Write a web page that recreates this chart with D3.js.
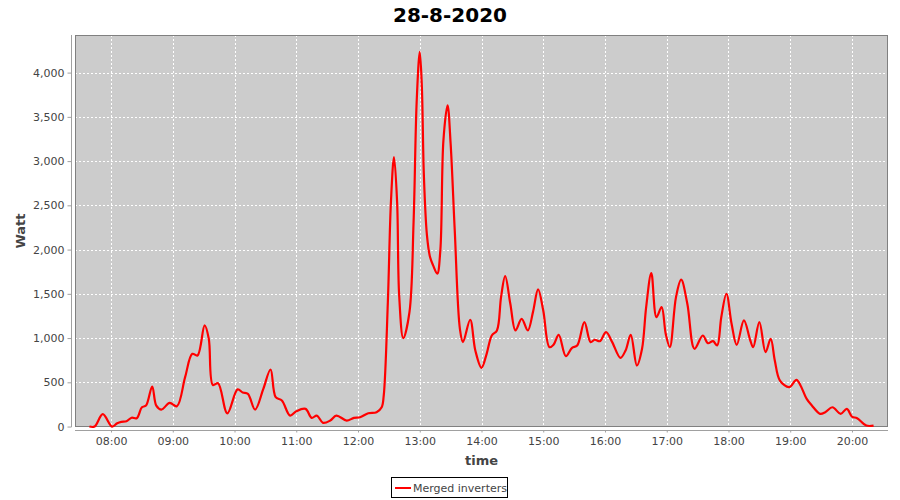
<html>
<head>
<script src="https://d3js.org/d3.v7.min.js"></script>
<style>
  body { margin: 0; background: #fff; }
  text { font-family: "DejaVu Sans", sans-serif; }
</style>
</head>
<body>
<div id="chart"></div>
<script>
// readings of the day, "HH:MM" -> watt
const times = ["07:39","07:44","07:52","08:01","08:06","08:10","08:15","08:20","08:25","08:30",
  "08:34","08:40","08:44","08:49","08:57","09:04","09:12","09:19","09:24","09:31",
  "09:35","09:39","09:44","09:53","10:03","10:08","10:13","10:20","10:28","10:35",
  "10:40","10:46","10:54","11:00","11:09","11:15","11:20","11:26","11:33","11:39",
  "11:49","11:56","12:02","12:10","12:18","12:23","12:25","12:29","12:32","12:35",
  "12:38","12:40","12:44","12:50","12:54","12:57","13:00","13:02","13:04","13:07",
  "13:10","13:13","13:17","13:20","13:23","13:27","13:30","13:34","13:39","13:42",
  "13:49","13:54","14:00","14:05","14:10","14:15","14:19","14:23","14:28","14:33",
  "14:39","14:45","14:50","14:55","15:00","15:06","15:10","15:15","15:22","15:28",
  "15:33","15:40","15:46","15:50","15:55","16:01","16:07","16:15","16:20","16:25",
  "16:31","16:36","16:40","16:45","16:50","16:55","16:59","17:03","17:09","17:14",
  "17:20","17:27","17:35","17:40","17:45","17:49","17:53","17:58","18:03","18:08",
  "18:15","18:21","18:24","18:30","18:36","18:41","18:45","18:50","18:59","19:06",
  "19:10","19:16","19:21","19:29","19:34","19:41","19:49","19:55","20:00","20:05",
  "20:14","20:21"];
const watts = [0,0,140,0,37,53,60,100,94,218,
  237,452,237,192,268,230,558,822,803,1143,
  992,470,490,150,420,385,370,192,426,645,
  332,294,124,173,200,98,124,42,68,124,
  68,98,105,150,162,218,350,1406,2537,3046,
  2537,1482,999,1293,2311,3669,4234,3857,2839,2160,
  1915,1821,1727,1991,3235,3631,3198,2217,1105,954,
  1207,860,664,822,1029,1086,1463,1700,1388,1086,
  1218,1086,1293,1550,1312,897,924,1037,795,890,
  916,1180,954,981,965,1067,954,777,860,1037,
  690,879,1350,1734,1236,1350,1049,897,1463,1660,
  1388,879,1029,942,965,916,1236,1501,1162,924,
  1199,981,897,1180,841,992,747,520,445,528,
  464,313,238,144,162,218,144,200,113,94,
  11,11];
const yTicks = [0,500,1000,1500,2000,2500,3000,3500,4000];
const xTicks = ["08:00","09:00","10:00","11:00","12:00","13:00","14:00","15:00","16:00","17:00","18:00","19:00","20:00"];
const title = "28-8-2020";
const seriesName = "Merged inverters";

const w = 900, h = 500;
const pL = 75, pR = 888, pT = 35, pB = 427;

const parse = d3.timeParse("%Y-%m-%d %H:%M");
const day = "2020-08-28 ";
const data = times.map((t, i) => ({ t: parse(day + t), v: watts[i] }));

const svg = d3.select("#chart").append("svg")
  .attr("width", w).attr("height", h);

const xScale = d3.scaleTime()
  .domain([parse(day + "07:25"), parse(day + "20:35")])
  .range([pL, pR]);
const yScale = d3.scaleLinear()
  .domain([-5, 4425])
  .range([pB, pT]);

svg //title
  .append("text")
  .attr("x", 450).attr("y", 22)
  .attr("text-anchor", "middle")
  .style("font-size", "20px").style("font-weight", "bold")
  .text(title);

svg //plot background
  .append("rect")
  .attr("x", pL).attr("y", pT)
  .attr("width", pR - pL).attr("height", pB - pT)
  .attr("fill", "#cccccc");

const grid = svg.append("g")
  .attr("stroke", "#ffffff").attr("stroke-width", 1)
  .attr("stroke-dasharray", "2,2");
grid.selectAll(".gy").data(yTicks).enter().append("line")
  .attr("x1", pL).attr("x2", pR)
  .attr("y1", d => Math.round(yScale(d)) + 0.5)
  .attr("y2", d => Math.round(yScale(d)) + 0.5);
grid.selectAll(".gx").data(xTicks).enter().append("line")
  .attr("y1", pT).attr("y2", pB)
  .attr("x1", d => Math.round(xScale(parse(day + d))) + 0.5)
  .attr("x2", d => Math.round(xScale(parse(day + d))) + 0.5);

svg //plot outline
  .append("rect")
  .attr("x", pL + 0.5).attr("y", pT + 0.5)
  .attr("width", pR - pL - 1).attr("height", pB - pT - 1)
  .attr("fill", "none").attr("stroke", "#808080");

const line = d3.line()
  .x(d => xScale(d.t))
  .y(d => yScale(d.v))
  .curve(d3.curveCatmullRom.alpha(0.5));

svg //series
  .append("path")
  .datum(data)
  .attr("d", line)
  .attr("fill", "none")
  .attr("stroke", "#ff0000")
  .attr("stroke-width", 2.2)
  .attr("stroke-linejoin", "round");

const yAxis = d3.axisLeft(yScale)
  .tickValues(yTicks)
  .tickFormat(d3.format(","))
  .tickSize(4).tickPadding(3).tickSizeOuter(0);
const xAxis = d3.axisBottom(xScale)
  .tickValues(xTicks.map(d => parse(day + d)))
  .tickFormat(d3.timeFormat("%H:%M"))
  .tickSize(2).tickPadding(5).tickSizeOuter(0);

const gy = svg.append("g")
  .attr("transform", "translate(71.5,0)")
  .call(yAxis);
const gx = svg.append("g")
  .attr("transform", "translate(0,430.5)")
  .call(xAxis);

[gy, gx].forEach(g => {
  g.select(".domain").attr("stroke", "#a0a0a0");
  g.selectAll(".tick line").attr("stroke", "#a0a0a0");
  g.selectAll(".tick text")
    .attr("fill", "#444444")
    .style("font-family", "DejaVu Sans, sans-serif")
    .style("font-size", "11px");
});
gy.select(".domain").attr("d", "M0," + pT + "V" + pB);
gx.select(".domain").attr("d", "M" + pL + ",0H" + pR);

svg //y-axis label
  .append("text")
  .attr("transform", "translate(25," + ((pT + pB) / 2) + ") rotate(-90)")
  .attr("text-anchor", "middle")
  .style("font-size", "13px").style("font-weight", "bold")
  .attr("fill", "#444444")
  .text("Watt");

svg //x-axis label
  .append("text")
  .attr("x", (pL + pR) / 2).attr("y", 465)
  .attr("text-anchor", "middle")
  .style("font-size", "13px").style("font-weight", "bold")
  .attr("fill", "#444444")
  .text("time");

const legend = svg.append("g");
legend.append("rect")
  .attr("x", 391.5).attr("y", 477.5)
  .attr("width", 116).attr("height", 20)
  .attr("fill", "#ffffff").attr("stroke", "#000000");
legend.append("line")
  .attr("x1", 395).attr("x2", 411)
  .attr("y1", 488).attr("y2", 488)
  .attr("stroke", "#ff0000").attr("stroke-width", 2);
legend.append("text")
  .attr("x", 413).attr("y", 492)
  .style("font-size", "11px")
  .attr("fill", "#444444")
  .text(seriesName);
</script>
</body>
</html>
